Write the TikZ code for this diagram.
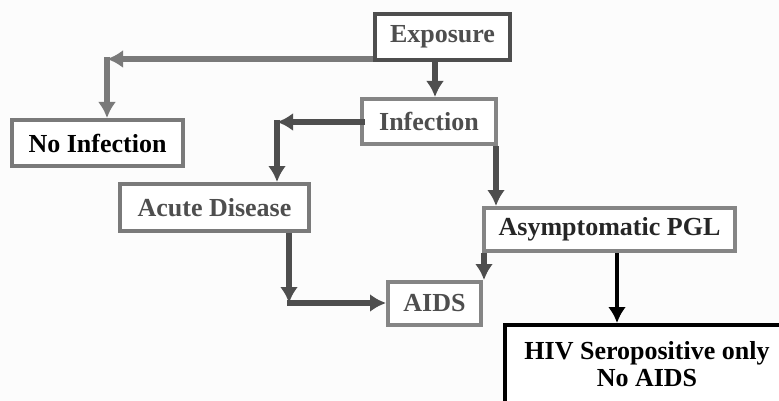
\documentclass[tikz,border=0pt]{standalone}
\usepackage{fontspec}
\setmainfont{Liberation Serif}
\usetikzlibrary{arrows.meta}
\definecolor{bgc}{HTML}{FCFCFC}
\definecolor{dk}{HTML}{4E4E4E}
\definecolor{md}{HTML}{7A7A7A}
\definecolor{lt}{HTML}{858585}
\tikzset{
  box/.style={draw, line width=4pt, fill=white, inner sep=0pt, font=\fontsize{26}{30}\selectfont\bfseries, align=center},
  conn/.style={line width=5.5pt, -{Latex[length=16pt,width=18pt]}}
}
\begin{document}
\begin{tikzpicture}[x=1pt,y=-1pt]
\useasboundingbox (0,0) rectangle (779,401);
\fill[bgc] (0,0) rectangle (779,401);
% boxes
\node[box, draw=dk, text=dk, minimum width=135pt, minimum height=46pt] (exp) at (442.5,37) {Exposure};
\node[box, draw=md, text=black, minimum width=171pt, minimum height=46pt] (noinf) at (97.5,143) {No Infection};
\node[box, draw=lt, text=dk, minimum width=134pt, minimum height=45pt] (inf) at (429,121.5) {Infection};
\node[box, draw=md, text=dk, minimum width=189pt, minimum height=47pt] (acute) at (214.5,207.5) {Acute Disease};
\node[box, draw=lt, text=black!85, minimum width=251pt, minimum height=43pt] (asym) at (609.5,229.5) {Asymptomatic PGL};
\node[box, draw=lt, text=dk, minimum width=93pt, minimum height=43pt] (aids) at (434.5,303.5) {AIDS};
\node[box, draw=black, text=black, minimum width=283pt, minimum height=90pt] (hiv) at (646.5,370) {};
\node[font=\fontsize{26}{27}\selectfont\bfseries, align=center, anchor=north] (hivt) at (647,338) {HIV Seropositive only\\No AIDS};
% corner coordinates
\coordinate (c1) at (107,59);
\coordinate (c2) at (277,122);
\coordinate (c3) at (289,303);
% connectors
\draw[conn, md] (exp.west |- c1) -- (c1);
\draw[conn, md] ([yshift=2pt]c1) -- (c1 |- noinf.north);
\draw[conn, dk] (exp.south -| 435,0) -- (435,0 |- inf.north);
\draw[conn, dk] ([xshift=5pt]inf.west |- c2) -- (c2);
\draw[conn, dk] ([yshift=2pt]c2) -- (c2 |- acute.north);
\draw[conn, dk] (inf.south -| 496,0) -- (496,0 |- asym.north);
\draw[conn, dk] (c3 |- acute.south) -- (c3);
\draw[conn, dk] ([xshift=-2pt]c3) -- (aids.west |- c3);
\draw[conn, dk] (asym.south -| 484,0) -- (484,0 |- aids.north);
\draw[conn, black, line width=4.5pt] (asym.south -| 617,0) -- (617,0 |- hiv.north);
\end{tikzpicture}
\end{document}
